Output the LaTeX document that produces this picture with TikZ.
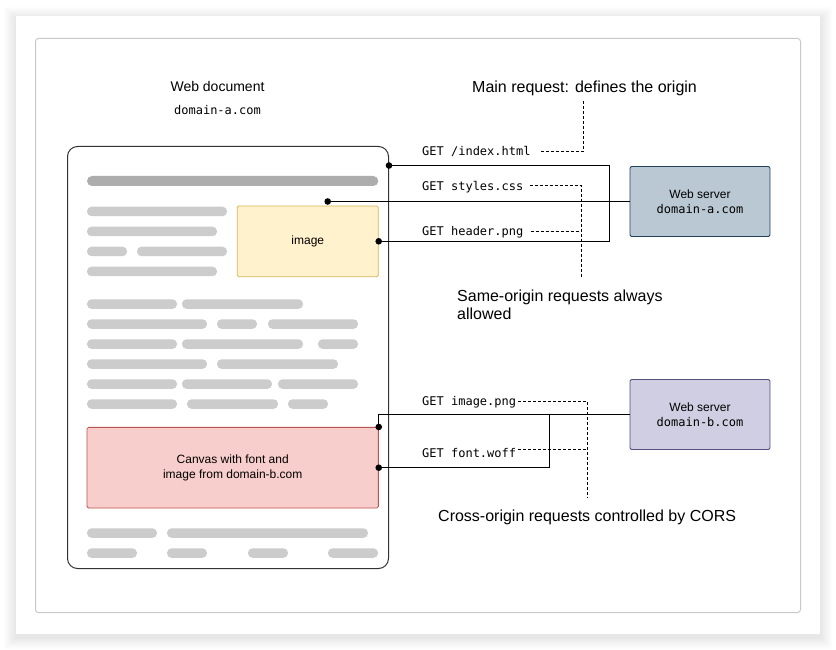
\documentclass[tikz,border=0pt]{standalone}
\usepackage{fontspec}
\setmainfont{Liberation Sans}
\newfontfamily\monof{DejaVu Sans Mono}
\definecolor{imgF}{HTML}{FFF2CC}\definecolor{imgD}{HTML}{D6B656}
\definecolor{cvF}{HTML}{F8CECC}\definecolor{cvD}{HTML}{B85450}
\definecolor{saF}{HTML}{BAC8D3}\definecolor{saD}{HTML}{23445D}
\definecolor{sbF}{HTML}{D0CEE2}\definecolor{sbD}{HTML}{56517E}
\definecolor{barc}{HTML}{CCCCCC}\definecolor{topbarc}{HTML}{ADADAD}
\definecolor{framec}{HTML}{C8C8C8}
\begin{document}
\begin{tikzpicture}[x=1pt,y=-1pt,
  bar/.style={fill=barc,rounded corners=4.5pt},
  topbar/.style={fill=topbarc,rounded corners=5pt},
  docbox/.style={draw=black!80,line width=1pt,rounded corners=10pt,fill=white,minimum width=321pt,minimum height=422pt,inner sep=0pt},
  imgbox/.style={draw=imgD,fill=imgF,line width=0.8pt,rounded corners=1.5pt,font=\fontsize{12}{14}\selectfont},
  cvbox/.style={draw=cvD,fill=cvF,line width=0.8pt,rounded corners=1.5pt,align=center,font=\fontsize{12}{14.5}\selectfont},
  srv/.style={line width=0.9pt,rounded corners=2pt,minimum width=140pt,minimum height=70pt,align=center,font=\fontsize{12}{15}\selectfont},
  req/.style={font=\monof\fontsize{12}{14}\selectfont,inner sep=0pt,anchor=base west},
  note/.style={font=\fontsize{16}{18}\selectfont,inner sep=0pt,align=left},
  conn/.style={draw=black,line width=1pt},
  dsh/.style={draw=black,line width=1pt,dash pattern=on 3pt off 2pt},
  dot/.style={fill=black}]
\useasboundingbox (0,0) rectangle (836,650);
\fill[white] (0,0) rectangle (836,650);
% card shadow
\foreach \i in {1,...,12}
  \fill[black,opacity=0.009,rounded corners=2pt] (16-\i,16-\i+3) rectangle (820+\i,634+\i+3);
\fill[white] (16,16) rectangle (820,634);
\draw[framec,line width=1pt,rounded corners=3pt] (35.5,38.5) rectangle (800.5,612.5);

% titles
\node[font=\fontsize{14}{16}\selectfont,inner sep=0pt,anchor=base] (tDoc) at (217.5,91.7) {Web document};
\node[font=\monof\fontsize{12}{14}\selectfont,inner sep=0pt,anchor=base] (tDom) at (217.5,115) {domain-a.com};

% document
\node[docbox,anchor=north west] (doc) at (67,146) {};
\fill[topbar] (87,176) rectangle (378.3,186);
\foreach \a/\b/\y in {87/227/206.7, 87/217/226.7, 87/127/246.7, 137/227/246.7, 87/217/266.7,
  87/177/299.3, 182/303/299.3,
  87/207/319.3, 217/257/319.3, 268/358/319.3,
  87/177/339.3, 182/303/339.3, 318/358/339.3,
  87/207/359.3, 217/338/359.3,
  87/177/379.3, 182/272/379.3, 278/358/379.3,
  87/177/399.3, 187/278/399.3, 288/328/399.3,
  87/157/528.3, 167/368/528.3,
  87/137/548.3, 167/207/548.3, 248/288/548.3, 328/378/548.3}
  \fill[bar] (\a,\y) rectangle (\b,\y+9.5);

\node[imgbox,minimum width=141pt,minimum height=70.7pt] (img) at (307.8,241.3) {image};
\node[cvbox,minimum width=291.3pt,minimum height=80.7pt] (cv) at (232.7,467.7) {Canvas with font and\\image from domain-b.com};

% servers
\node[srv,draw=saD,fill=saF] (srvA) at (700,201.5) {Web server\\{\monof domain-a.com}};
\node[srv,draw=sbD,fill=sbF] (srvB) at (700,414.5) {Web server\\{\monof domain-b.com}};

% request labels
\node[req] (rIdx) at (422,156) {GET /index.html};
\node[req] (rCss) at (422,190) {GET styles.css};
\node[req] (rHdr) at (422,235.8) {GET header.png};
\node[req] (rImg) at (422,405.3) {GET image.png};
\node[req] (rFnt) at (422,457) {GET font.woff};

% notes
\node[note,anchor=base west] (nMain) at (472,92.5) {Main request: defines the origin};
\node[note,anchor=west] (nSame) at (457,304.7) {Same-origin requests always\\allowed};
\node[note,anchor=base west] (nCors) at (438,521.5) {Cross-origin requests controlled by CORS};

% dots / coordinates
\coordinate (d1) at (doc.east |- 0,165.5);
\coordinate (d2) at (327.7,201.5);
\coordinate (d3) at (img.east);
\coordinate (d4) at (cv.north east);
\coordinate (d5) at (cv.east);
\coordinate (jA) at (609.5,165.5);
\coordinate (jB) at (549.5,414.5);

% solid connectors
\draw[conn] (d1) -- (jA) |- (d3);
\draw[conn] (d2) -- (srvA.west);
\draw[conn] (srvB.west) -| (d4);
\draw[conn] (d5) -| (jB);
\foreach \p in {d1,d2,d3,d4,d5} \fill[dot] (\p) circle (3.3pt);

% dashed annotations
\coordinate (m1) at (583.5,151.5);
\coordinate (m0) at (583.5,100);
\draw[dsh] (m1 -| rIdx.east) ++(10.5,0) -- (m1) -- (m0);
\coordinate (a1) at (581.5,185.5);
\coordinate (a2) at (581.5,231.5);
\coordinate (a3) at (581.5,278);
\draw[dsh] (a1 -| rCss.east) ++(6,0) -- (a1) -- (a3);
\draw[dsh] (a2 -| rHdr.east) ++(7,0) -- (a2);
\coordinate (b1) at (587.5,401.5);
\coordinate (b2) at (587.5,449.5);
\coordinate (b3) at (587.5,498);
\draw[dsh] (b1 -| rImg.east) ++(2,0) -- (b1) -- (b3);
\draw[dsh] (b2 -| rFnt.east) ++(2,0) -- (b2);
\end{tikzpicture}
\end{document}
